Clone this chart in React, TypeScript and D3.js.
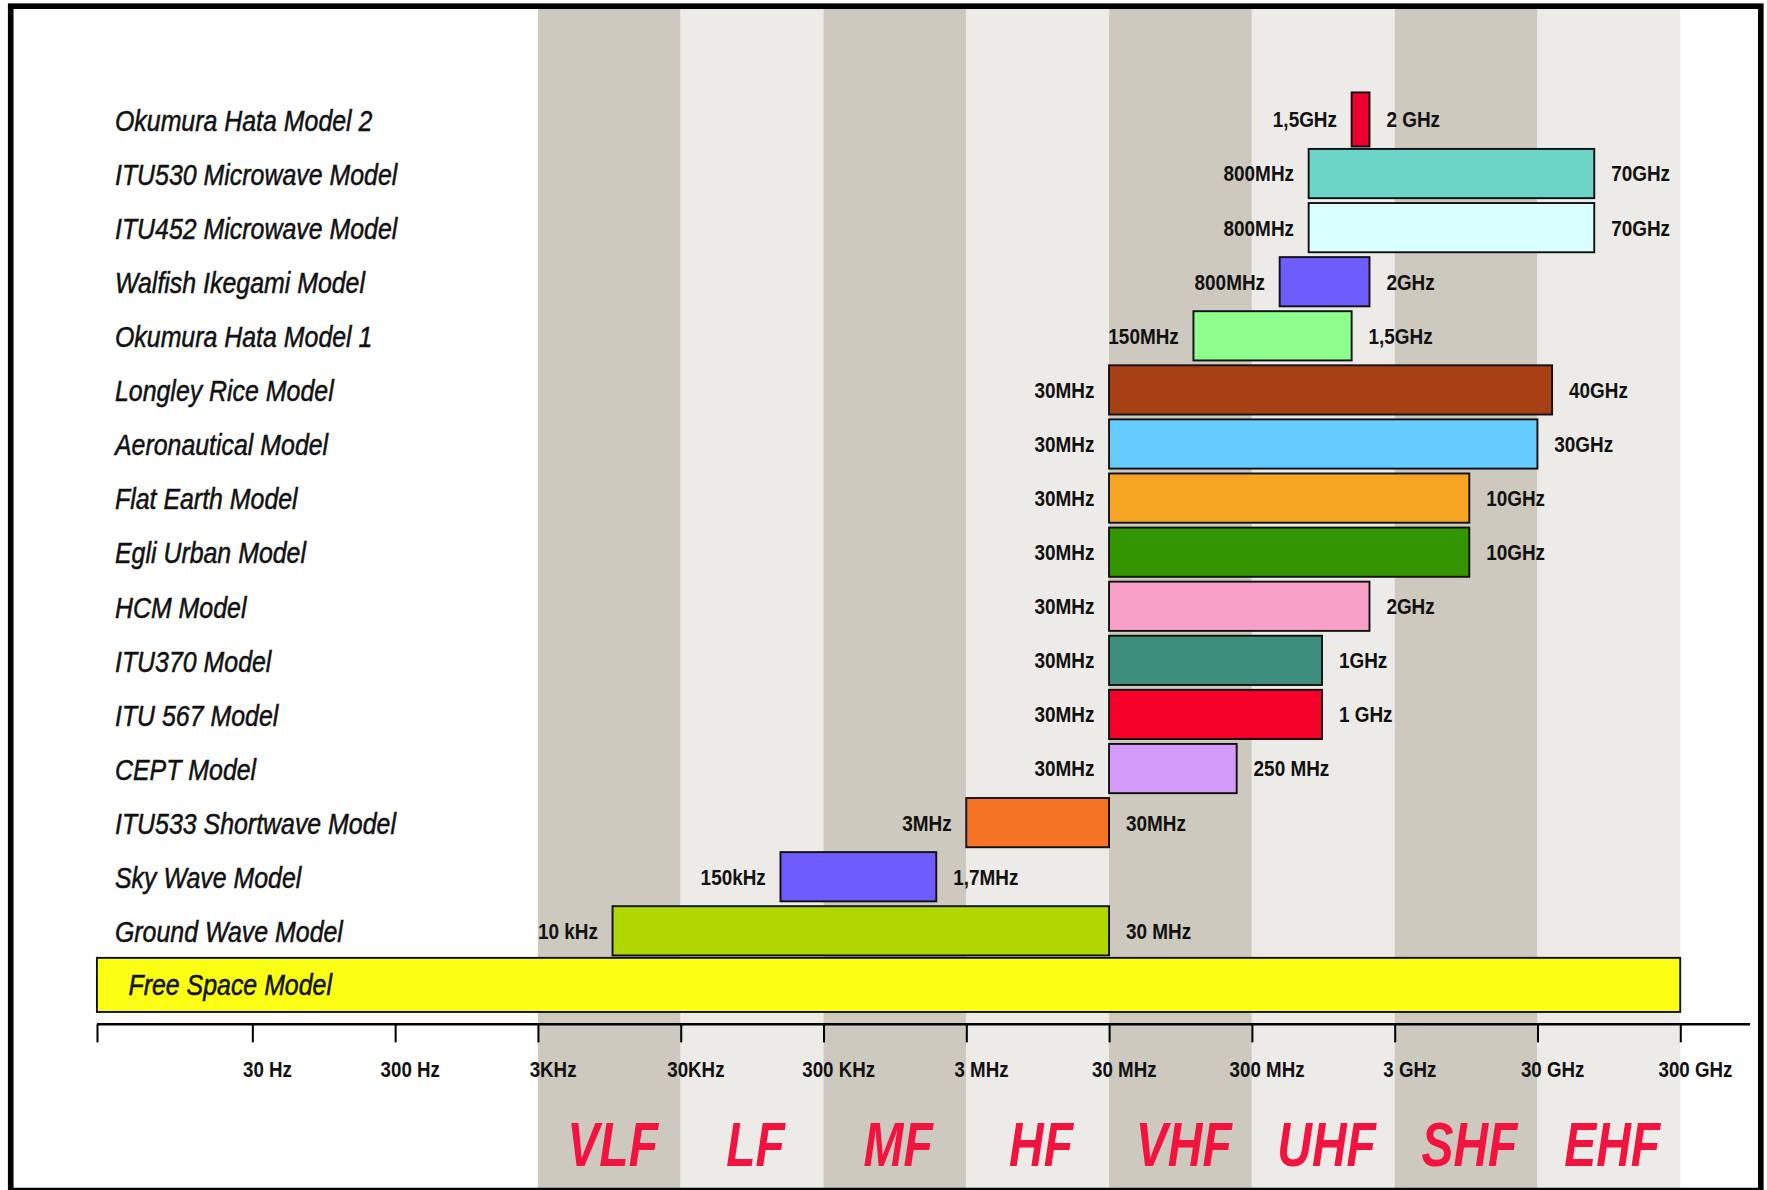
import React, { useEffect, useRef } from "react";
import * as d3 from "d3";

// propagation models, top to bottom
const models = [
  "Okumura Hata Model 2",
  "ITU530 Microwave Model",
  "ITU452 Microwave Model",
  "Walfish Ikegami Model",
  "Okumura Hata Model 1",
  "Longley Rice Model",
  "Aeronautical Model",
  "Flat Earth Model",
  "Egli Urban Model",
  "HCM Model",
  "ITU370 Model",
  "ITU 567 Model",
  "CEPT Model",
  "ITU533 Shortwave Model",
  "Sky Wave Model",
  "Ground Wave Model",
  "Free Space Model",
];
// bar ends as drawn (Hz)
const fromHz = [1.5e9, 7.5e8, 7.5e8, 4.7e8, 1.17e8, 3e7, 3e7, 3e7, 3e7, 3e7, 3e7, 3e7, 3e7, 3e6, 1.5e5, 1e4, 2.45];
const toHz = [2e9, 7.5e10, 7.5e10, 2e9, 1.5e9, 3.8e10, 3e10, 1e10, 1e10, 2e9, 9.3e8, 9.3e8, 2.35e8, 3e7, 1.85e6, 3e7, 3e11];
const fromLabels = ["1,5GHz", "800MHz", "800MHz", "800MHz", "150MHz", "30MHz", "30MHz", "30MHz", "30MHz", "30MHz", "30MHz", "30MHz", "30MHz", "3MHz", "150kHz", "10 kHz", ""];
const toLabels = ["2 GHz", "70GHz", "70GHz", "2GHz", "1,5GHz", "40GHz", "30GHz", "10GHz", "10GHz", "2GHz", "1GHz", "1 GHz", "250 MHz", "30MHz", "1,7MHz", "30 MHz", ""];
const barColors = [
  "#ee0030", "#6dd5c8", "#d9ffff", "#6e5cff", "#8cff8c", "#a84016", "#66ccff", "#f6a623", "#339600",
  "#f9a0c9", "#3e8e7e", "#f50028", "#d59bfb", "#f57324", "#6e5cff", "#b0d800", "#faff14",
];

// frequency bands
const bandStart = [3e3, 3e4, 3e5, 3e6, 3e7, 3e8, 3e9, 3e10];
const bandNames = ["VLF", "LF", "MF", "HF", "VHF", "UHF", "SHF", "EHF"];

const tickHz = [2.45, 30, 300, 3e3, 3e4, 3e5, 3e6, 3e7, 3e8, 3e9, 3e10, 3e11];
const tickLabels = ["", "30 Hz", "300 Hz", "3KHz", "30KHz", "300 KHz", "3 MHz", "30 MHz", "300 MHz", "3 GHz", "30 GHz", "300 GHz"];

const W = 1568;
const H = 1056;
const FONT = "'Liberation Sans', Arial, sans-serif";
const axisY = 909;

export default function App() {
  const axisRef = useRef<SVGGElement>(null);

  const x = d3.scaleLog().domain([2.45, 3e11]).range([86, 1491]);
  const y = d3.scaleBand<string>().domain(models).range([82, 898]).paddingInner(0.09).paddingOuter(0.045);
  const step = y.step();
  const last = models.length - 1;

  useEffect(() => {
    const g = d3.select(axisRef.current);
    g.selectAll("*").remove();
    g.call(
      d3
        .axisBottom(x)
        .tickValues(tickHz)
        .tickSize(16)
        .tickFormat((_, i) => tickLabels[i])
    );
    g.select(".domain").remove();
    g.append("line")
      .attr("x1", x.range()[0])
      .attr("x2", 1553)
      .attr("y1", 0)
      .attr("y2", 0)
      .attr("stroke", "#000")
      .attr("stroke-width", 2.2);
    g.selectAll(".tick line").attr("stroke", "#000").attr("stroke-width", 1.8);
    g.selectAll(".tick text")
      .attr("fill", "#111")
      .attr("font-family", FONT)
      .attr("font-weight", "bold")
      .attr("font-size", 19)
      .attr("text-anchor", "middle")
      .attr("y", 0)
      .attr("dy", 0)
      .attr("transform", "translate(13,47) scale(0.875,1)");
  }, []);

  return (
    <svg
      width={1767}
      height={1190}
      viewBox={`0 0 ${W} ${H}`}
      style={{ position: "absolute", left: 0, top: 0, display: "block", background: "#fff" }}
    >
      {/* band backgrounds */}
      {bandStart.map((f, i) => (
        <rect
          key={bandNames[i]}
          x={x(f)}
          y={8}
          width={x(f * 10) - x(f)}
          height={H - 8}
          fill={i % 2 === 0 ? "#cdc9bf" : "#edebe7"}
        />
      ))}

      {/* band names */}
      {bandStart.map((f, i) => (
        <text
          key={"n" + bandNames[i]}
          transform={`translate(${(x(f) + x(f * 10)) / 2 + 3},1035) scale(0.76,1)`}
          textAnchor="middle"
          fontFamily={FONT}
          fontWeight="bold"
          fontStyle="italic"
          fontSize={56}
          fill="#f2143e"
        >
          {bandNames[i]}
        </text>
      ))}

      {/* model labels */}
      {models.slice(0, last).map((m) => (
        <text
          key={"l" + m}
          transform={`translate(${x(2.45) + 16},${(y(m) as number) + y.bandwidth() / 2 + 10}) scale(0.85,1)`}
          fontFamily={FONT}
          fontStyle="italic"
          fontSize={26}
          fill="#111"
          stroke="#111"
          strokeWidth={0.45}
        >
          {m}
        </text>
      ))}

      {/* bars */}
      {models.map((m, i) => {
        const full = i === 0 || i === last;
        const y0 = full ? 82 + step * i : (y(m) as number);
        const h = full ? step : y.bandwidth();
        const cy = (y(m) as number) + y.bandwidth() / 2;
        return (
          <g key={"b" + m}>
            <rect
              x={x(fromHz[i])}
              y={y0}
              width={x(toHz[i]) - x(fromHz[i])}
              height={h}
              fill={barColors[i]}
              stroke="#111"
              strokeWidth={1.7}
            />
            {fromLabels[i] && (
              <text
                transform={`translate(${x(fromHz[i]) - 13},${cy + 7}) scale(0.84,1)`}
                textAnchor="end"
                fontFamily={FONT}
                fontWeight="bold"
                fontSize={20}
                fill="#111"
              >
                {fromLabels[i]}
              </text>
            )}
            {toLabels[i] && (
              <text
                transform={`translate(${x(toHz[i]) + 15},${cy + 7}) scale(0.84,1)`}
                fontFamily={FONT}
                fontWeight="bold"
                fontSize={20}
                fill="#111"
              >
                {toLabels[i]}
              </text>
            )}
          </g>
        );
      })}

      {/* label inside the free space bar */}
      <text
        transform={`translate(${x(2.45) + 28},${82 + step * last + step / 2 + 9}) scale(0.85,1)`}
        fontFamily={FONT}
        fontStyle="italic"
        fontSize={26}
        fill="#111"
        stroke="#111"
        strokeWidth={0.45}
      >
        {models[last]}
      </text>

      <g ref={axisRef} transform={`translate(0,${axisY})`} />

      {/* frame */}
      <rect x={9.5} y={5.5} width={1553} height={1051} fill="none" stroke="#000" strokeWidth={5} />
    </svg>
  );
}
